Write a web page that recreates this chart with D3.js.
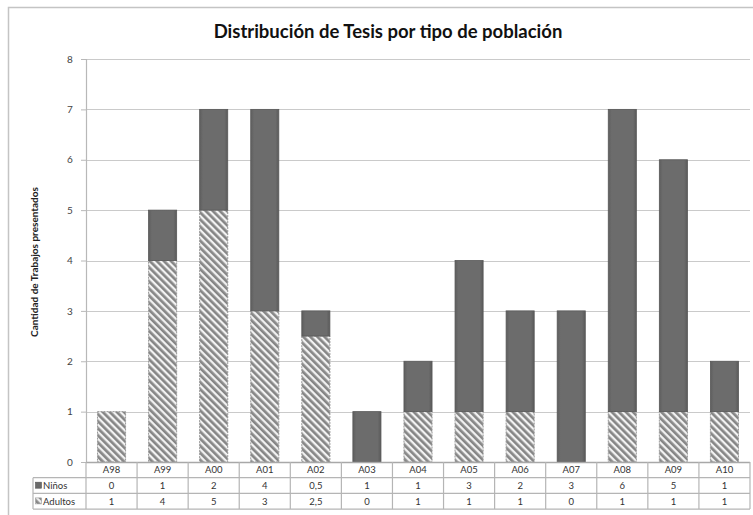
<!DOCTYPE html>
<html>
<head>
<meta charset="utf-8">
<script src="https://cdn.jsdelivr.net/npm/d3@7"></script>
<style>
  body { margin: 0; background: #fff; }
  svg text { font-family: Lato, "Open Sans", sans-serif; }
</style>
</head>
<body>
<div id="chart"></div>
<script>
var anios = ["A98", "A99", "A00", "A01", "A02", "A03", "A04", "A05", "A06", "A07", "A08", "A09", "A10"];
var ninos = [0, 1, 2, 4, 0.5, 1, 1, 3, 2, 3, 6, 5, 1];
var adultos = [1, 4, 5, 3, 2.5, 0, 1, 1, 1, 0, 1, 1, 1];
var etiquetasNinos = ["0", "1", "2", "4", "0,5", "1", "1", "3", "2", "3", "6", "5", "1"];
var etiquetasAdultos = ["1", "4", "5", "3", "2,5", "0", "1", "1", "1", "0", "1", "1", "1"];
var yTicks = [0, 1, 2, 3, 4, 5, 6, 7, 8];

var width = 753, height = 515;
var pLeft = 86, pRight = 750, pTop = 59, pBottom = 462;
var rowH = 15.7;

var svg = d3.select("#chart").append("svg")
    .attr("width", width)
    .attr("height", height);

var defs = svg.append("defs");

var hatch = defs.append("pattern")
    .attr("id", "hatch")
    .attr("patternUnits", "userSpaceOnUse")
    .attr("width", 5)
    .attr("height", 5)
    .attr("patternTransform", "rotate(-45)");
hatch.append("rect").attr("width", 5).attr("height", 5).attr("fill", "#f2f2f2");
hatch.append("rect").attr("width", 2.7).attr("height", 5).attr("fill", "#868686");

var grad = defs.append("linearGradient")
    .attr("id", "oscuro")
    .attr("x1", "0%").attr("x2", "100%").attr("y1", "0%").attr("y2", "0%");
grad.append("stop").attr("offset", "0%").attr("stop-color", "#5e5e5e");
grad.append("stop").attr("offset", "12%").attr("stop-color", "#6c6c6c");
grad.append("stop").attr("offset", "88%").attr("stop-color", "#6c6c6c");
grad.append("stop").attr("offset", "100%").attr("stop-color", "#5a5a5a");

// marco exterior
svg.append("rect")
    .attr("x", 8.5).attr("y", 7.5)
    .attr("width", 760).attr("height", 520)
    .attr("fill", "none")
    .attr("stroke", "#c4c4c4")
    .attr("stroke-width", 1.5);

var x = d3.scaleBand()
    .domain(anios)
    .range([pLeft, pRight])
    .paddingInner(0.45)
    .paddingOuter(0.225);

var y = d3.scaleLinear()
    .domain([0, 8])
    .range([pBottom, pTop]);

var step = x.step();
function celda(d) { return x(d) - step * 0.225; }

// lineas de cuadricula
svg.append("g")
    .selectAll("line")
    .data(yTicks.slice(1))
    .enter().append("line")
    .attr("x1", pLeft).attr("x2", pRight)
    .attr("y1", function(d) { return Math.round(y(d)) + 0.5; })
    .attr("y2", function(d) { return Math.round(y(d)) + 0.5; })
    .attr("stroke", "#cacaca")
    .attr("stroke-width", 1.2);

// eje y
var eje = svg.append("g")
    .attr("transform", "translate(" + pLeft + ",0)")
    .call(d3.axisLeft(y).tickValues(yTicks).tickSize(5).tickPadding(10));
eje.select(".domain").attr("stroke", "#b8b8b8").attr("stroke-width", 1.2);
eje.selectAll(".tick line").attr("stroke", "#b8b8b8");
eje.selectAll(".tick text")
    .attr("fill", "#444")
    .style("font-size", "10px")
    .attr("text-anchor", "middle")
    .attr("x", -16);

var datos = anios.map(function(a, i) {
  return { anio: a, adultos: adultos[i], ninos: ninos[i] };
});

// barras adultos
svg.append("g")
    .selectAll("rect")
    .data(datos.filter(function(d) { return d.adultos > 0; }))
    .enter().append("rect")
    .attr("x", function(d) { return x(d.anio); })
    .attr("width", x.bandwidth())
    .attr("y", function(d) { return y(d.adultos); })
    .attr("height", function(d) { return y(0) - y(d.adultos); })
    .attr("fill", "url(#hatch)")
    .attr("stroke", "#9a9a9a")
    .attr("stroke-width", 1)
    .attr("stroke-dasharray", "2,1");

// barras niños
svg.append("g")
    .selectAll("rect")
    .data(datos.filter(function(d) { return d.ninos > 0; }))
    .enter().append("rect")
    .attr("x", function(d) { return x(d.anio); })
    .attr("width", x.bandwidth())
    .attr("y", function(d) { return y(d.adultos + d.ninos); })
    .attr("height", function(d) { return y(d.adultos) - y(d.adultos + d.ninos); })
    .attr("fill", "url(#oscuro)")
    .attr("stroke", "#585858")
    .attr("stroke-width", 0.8);

// tabla de datos
var tabla = svg.append("g");
var lineaColor = "#b5b5b5";

tabla.append("line")
    .attr("x1", pLeft).attr("x2", pRight)
    .attr("y1", pBottom + 0.5).attr("y2", pBottom + 0.5)
    .attr("stroke", "#a8a8a8").attr("stroke-width", 1.3);

[1, 2, 3].forEach(function(r) {
  tabla.append("line")
      .attr("x1", 33).attr("x2", pRight)
      .attr("y1", pBottom + r * rowH).attr("y2", pBottom + r * rowH)
      .attr("stroke", lineaColor).attr("stroke-width", 1.2);
});

tabla.append("line")
    .attr("x1", 33).attr("x2", 33)
    .attr("y1", pBottom + rowH).attr("y2", pBottom + 3 * rowH)
    .attr("stroke", lineaColor).attr("stroke-width", 1.2);

tabla.selectAll(".vline")
    .data(anios.concat(["fin"]))
    .enter().append("line")
    .attr("class", "vline")
    .attr("x1", function(d, i) { return pLeft + i * step; })
    .attr("x2", function(d, i) { return pLeft + i * step; })
    .attr("y1", pBottom)
    .attr("y2", pBottom + 3 * rowH)
    .attr("stroke", lineaColor).attr("stroke-width", 1.2);

var filas = [anios, etiquetasNinos, etiquetasAdultos];
filas.forEach(function(fila, r) {
  tabla.selectAll(".t" + r)
      .data(fila)
      .enter().append("text")
      .attr("class", "t" + r)
      .attr("x", function(d, i) { return celda(anios[i]) + step / 2; })
      .attr("y", pBottom + r * rowH + rowH / 2 + 3.5)
      .attr("text-anchor", "middle")
      .attr("fill", "#333")
      .style("font-size", "9.5px")
      .text(function(d) { return d; });
});

// leyenda en la tabla
tabla.append("rect")
    .attr("x", 35.5).attr("y", pBottom + rowH + 4.5)
    .attr("width", 6).attr("height", 6)
    .attr("fill", "#6a6a6a").attr("stroke", "#555").attr("stroke-width", 0.6);
tabla.append("text")
    .attr("x", 43).attr("y", pBottom + rowH + rowH / 2 + 3.5)
    .attr("fill", "#333").style("font-size", "9.5px")
    .text("Niños");

tabla.append("rect")
    .attr("x", 35.5).attr("y", pBottom + 2 * rowH + 4.5)
    .attr("width", 6).attr("height", 6)
    .attr("fill", "url(#hatch)").attr("stroke", "#999").attr("stroke-width", 0.6);
tabla.append("text")
    .attr("x", 43).attr("y", pBottom + 2 * rowH + rowH / 2 + 3.5)
    .attr("fill", "#333").style("font-size", "9.5px")
    .text("Adultos");

// titulo
svg.append("text")
    .attr("x", 388)
    .attr("y", 38)
    .attr("text-anchor", "middle")
    .attr("fill", "#111")
    .style("font-size", "18.5px")
    .style("font-weight", "bold")
    .text("Distribución de Tesis por tipo de población");

// titulo eje y
svg.append("text")
    .attr("transform", "translate(38,262) rotate(-90)")
    .attr("text-anchor", "middle")
    .attr("fill", "#222")
    .style("font-size", "10px")
    .style("font-weight", "bold")
    .text("Cantidad de Trabajos presentados");
</script>
</body>
</html>
